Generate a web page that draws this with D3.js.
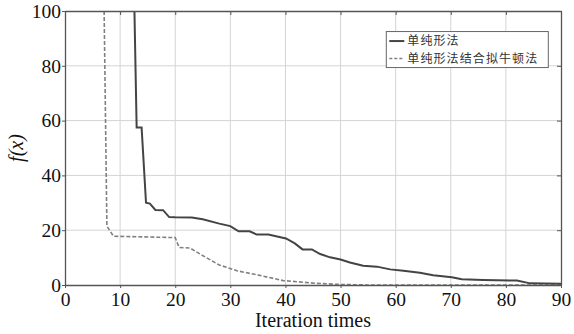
<!DOCTYPE html>
<html>
<head>
<meta charset="utf-8">
<script src="https://cdn.jsdelivr.net/npm/d3@7"></script>
<style>
  body { margin: 0; background: #fff; }
  svg { display: block; }
  .serif-text { font-family: "Liberation Serif", "Times New Roman", serif; }
</style>
</head>
<body>
<svg id="chart" width="574" height="334"></svg>
<script>
// values
const xTicks = [0, 10, 20, 30, 40, 50, 60, 70, 80, 90];
const yTicks = [0, 20, 40, 60, 80, 100];
const seriesNames = ["单纯形法", "单纯形法结合拟牛顿法"];

const simplexX = [12.6, 13, 13.9, 14.7, 15.4, 16.4, 17.8, 18.9, 20, 23, 25, 28, 30, 31.5, 33.5, 34.8, 36.9, 40.1, 41.7, 43.1, 44.8, 46.3, 48.1, 50, 51.7, 54.1, 56.6, 59, 61.4, 64.4, 66.8, 70.2, 72, 75.9, 82, 84.4, 90];
const simplexY = [100, 57.5, 57.5, 30, 29.7, 27.4, 27.3, 24.8, 24.7, 24.6, 24, 22.4, 21.5, 19.6, 19.6, 18.4, 18.4, 17, 15.2, 13, 13, 11.3, 10.1, 9.3, 8.2, 7, 6.7, 5.7, 5.2, 4.5, 3.6, 2.8, 2.1, 1.8, 1.6, 0.6, 0.5];

const hybridX = [7.1, 7.6, 8.8, 20, 20.7, 22.7, 24.5, 28, 31.2, 35.1, 39.6, 45.7, 50, 55, 90];
const hybridY = [100, 21.5, 17.8, 17.3, 13.7, 13.5, 11.3, 7.3, 5.2, 3.6, 1.6, 0.6, 0.2, 0, 0];

const svg = d3.select("#chart");
const margin = { top: 11, right: 13, bottom: 49, left: 65 },
    width = +svg.attr("width") - margin.left - margin.right,
    height = +svg.attr("height") - margin.top - margin.bottom;

const g = svg.append("g")
    .attr("transform", "translate(" + margin.left + "," + margin.top + ")");

const x = d3.scaleLinear().domain([0, 90]).range([0, width]);
const y = d3.scaleLinear().domain([0, 100]).range([height, 0]);

// grid
g.append("g")
    .selectAll("line")
    .data(xTicks.slice(1, -1))
    .join("line")
    .attr("x1", d => x(d)).attr("x2", d => x(d))
    .attr("y1", 0).attr("y2", height)
    .attr("stroke", "#d4d4d4").attr("stroke-width", 1);

g.append("g")
    .selectAll("line")
    .data(yTicks.slice(1, -1))
    .join("line")
    .attr("y1", d => y(d)).attr("y2", d => y(d))
    .attr("x1", 0).attr("x2", width)
    .attr("stroke", "#d4d4d4").attr("stroke-width", 1);

// clip for the lines
svg.append("defs").append("clipPath").attr("id", "plot-clip")
    .append("rect").attr("width", width).attr("height", height);

const line = d3.line()
    .x(d => x(d[0]))
    .y(d => y(d[1]));

const plot = g.append("g").attr("clip-path", "url(#plot-clip)");

plot.append("path")
    .datum(hybridX.map((v, i) => [v, hybridY[i]]))
    .attr("fill", "none")
    .attr("stroke", "#808080")
    .attr("stroke-width", 1.6)
    .attr("stroke-dasharray", "4,2")
    .attr("d", line);

plot.append("path")
    .datum(simplexX.map((v, i) => [v, simplexY[i]]))
    .attr("fill", "none")
    .attr("stroke", "#444")
    .attr("stroke-width", 2)
    .attr("d", line);

// axes, boxed like matlab
const axes = [
    g.append("g")
        .attr("transform", "translate(0," + height + ")")
        .call(d3.axisBottom(x).tickValues(xTicks).tickSizeInner(3).tickSizeOuter(0).tickPadding(4)),
    g.append("g")
        .call(d3.axisLeft(y).tickValues(yTicks).tickSizeInner(3).tickSizeOuter(0).tickPadding(1)),
    g.append("g")
        .attr("transform", "translate(" + width + ",0)")
        .call(d3.axisRight(y).tickValues(yTicks).tickSizeInner(-4).tickSizeOuter(0).tickFormat("")),
    g.append("g")
        .call(d3.axisTop(x).tickValues(xTicks).tickSizeInner(-4).tickSizeOuter(0).tickFormat(""))
];
axes.forEach(a => a.attr("font-family", null).attr("font-size", null).attr("class", "serif-text"));

g.selectAll(".domain").attr("stroke", "#555").attr("stroke-width", 1.3);
g.selectAll(".tick line").attr("stroke", "#555");
g.selectAll(".tick text")
    .attr("font-size", 19.5)
    .attr("fill", "#111");

// axis titles
svg.append("text")
    .attr("class", "serif-text")
    .attr("x", margin.left + width / 2)
    .attr("y", 327)
    .attr("text-anchor", "middle")
    .attr("font-size", 20)
    .attr("fill", "#111")
    .text("Iteration times");

svg.append("text")
    .attr("class", "serif-text")
    .attr("transform", "translate(23,148) rotate(-90)")
    .attr("text-anchor", "middle")
    .attr("font-style", "italic")
    .attr("font-size", 20)
    .attr("fill", "#111")
    .text("f(x)");

// legend
const legend = g.append("g")
    .attr("transform", "translate(" + x(58.3) + "," + y(92.5) + ")");

legend.append("rect")
    .attr("width", 162).attr("height", 36)
    .attr("fill", "#fff")
    .attr("stroke", "#666").attr("stroke-width", 1);

const legendItems = legend.selectAll("g.item")
    .data(seriesNames)
    .join("g")
    .attr("class", "item")
    .attr("transform", (d, i) => "translate(0," + (9.5 + i * 17.5) + ")");

legendItems.append("line")
    .attr("x1", 3).attr("x2", 18)
    .attr("stroke", (d, i) => i === 0 ? "#444" : "#808080")
    .attr("stroke-width", (d, i) => i === 0 ? 2 : 1.5)
    .attr("stroke-dasharray", (d, i) => i === 0 ? null : "3,2");

legendItems.append("text")
    .attr("x", 21)
    .attr("dy", "0.35em")
    .attr("font-family", "'Noto Sans CJK SC', sans-serif")
    .attr("font-size", 12)
    .attr("letter-spacing", 1.1)
    .attr("fill", "#333")
    .text(d => d);
</script>
</body>
</html>
